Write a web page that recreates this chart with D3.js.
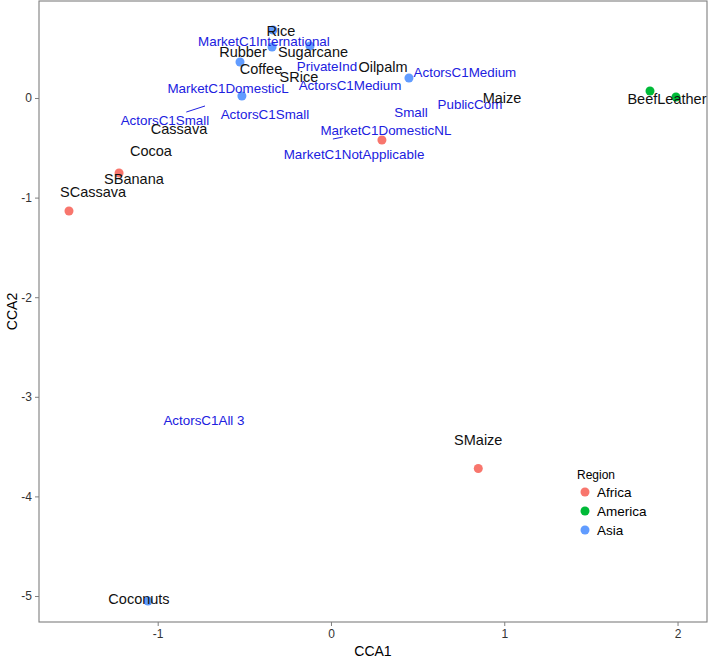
<!DOCTYPE html>
<html>
<head>
<meta charset="utf-8">
<script src="https://cdn.jsdelivr.net/npm/d3@7"></script>
<style>
  body { margin: 0; background: #fff; }
  text { font-family: "Liberation Sans", Arial, sans-serif; }
</style>
</head>
<body>
<div id="chart"></div>
<script>
// site scores (points), coloured by region
var siteX = [-0.335, -0.340, -0.121, -0.525, -0.514, 0.450, -1.056, -1.223, -1.512, 0.294, 0.85, 1.841, 1.991];
var siteY = [0.683, 0.512, 0.522, 0.361, 0.020, 0.201, -5.05, -0.753, -1.135, -0.422, -3.72, 0.070, 0.010];
var siteRegion = ["Asia", "Asia", "Asia", "Asia", "Asia", "Asia", "Asia", "Africa", "Africa", "Africa", "Africa", "America", "America"];

// species labels (black)
var spNames = ["Rice", "Rubber", "Sugarcane", "Coffee", "SRice", "Oilpalm", "Maize", "BeefLeather", "Cassava", "Cocoa", "SBanana", "SCassava", "SMaize", "Coconuts"];
var spX = [-0.289, -0.508, -0.104, -0.404, -0.185, 0.300, 0.987, 1.939, -0.877, -1.039, -1.137, -1.373, 0.85, -1.108];
var spY = [0.673, 0.462, 0.462, 0.291, 0.211, 0.311, 0.0, -0.01, -0.311, -0.532, -0.813, -0.944, -3.43, -5.03];

// constraint labels (blue)
var envNames = ["MarketC1International", "PrivateInd", "ActorsC1Medium", "ActorsC1Medium", "MarketC1DomesticL", "ActorsC1Small", "ActorsC1Small", "Small", "PublicCom", "MarketC1DomesticNL", "MarketC1NotApplicable", "ActorsC1All 3"];
var envX = [-0.387, -0.023, 0.110, 0.773, -0.594, -0.381, -0.958, 0.462, 0.802, 0.317, 0.133, -0.733];
var envY = [0.572, 0.321, 0.131, 0.261, 0.100, -0.161, -0.221, -0.141, -0.060, -0.321, -0.562, -3.233];

// repel segments [x1, y1, x2, y2]
var segs = [[-0.835, -0.141, -0.727, -0.080], [0.011, -0.412, 0.069, -0.392]];

var xTicks = [-1, 0, 1, 2];
var yTicks = [0, -1, -2, -3, -4, -5];
var regions = ["Africa", "America", "Asia"];
var regionColors = ["#F8766D", "#00BA38", "#619CFF"];

var svgWidth = 708;
var svgHeight = 661;
var margins = { top: 1, right: 1, bottom: 39, left: 39 };
var chartWidth = svgWidth - margins.left - margins.right;
var chartHeight = svgHeight - margins.top - margins.bottom;

var svg = d3.select("#chart").append("svg")
  .attr("width", svgWidth)
  .attr("height", svgHeight);

var chartGroup = svg.append("g")
  .attr("transform", `translate(${margins.left}, ${margins.top})`);

var xscale = d3.scaleLinear().domain([-1.685, 2.170]).range([0, chartWidth]);
var yscale = d3.scaleLinear().domain([0.974, -5.261]).range([0, chartHeight]);
var color = d3.scaleOrdinal().domain(regions).range(regionColors);

// axes (plain hyphen for negatives, like R)
var xAxis = d3.axisBottom(xscale).tickValues(xTicks).tickSize(4).tickPadding(3).tickFormat(d => String(d));
var yAxis = d3.axisLeft(yscale).tickValues(yTicks).tickSize(4).tickPadding(3).tickFormat(d => String(d));

var gx = chartGroup.append("g").attr("transform", `translate(0, ${chartHeight})`).call(xAxis);
var gy = chartGroup.append("g").call(yAxis);
[gx, gy].forEach(function(g) {
  g.select(".domain").remove();
  g.selectAll("line").attr("stroke", "#7f7f7f");
  g.selectAll("text").attr("fill", "#333").style("font-size", "12px");
});

// panel border
chartGroup.append("rect")
  .attr("x", 0).attr("y", 0)
  .attr("width", chartWidth).attr("height", chartHeight)
  .attr("fill", "none")
  .attr("stroke", "#7f7f7f")
  .attr("stroke-width", 1.1);

// points
chartGroup.append("g").selectAll("circle")
  .data(siteX)
  .enter()
  .append("circle")
  .attr("cx", (d, i) => xscale(siteX[i]))
  .attr("cy", (d, i) => yscale(siteY[i]))
  .attr("r", 4.5)
  .attr("fill", (d, i) => color(siteRegion[i]));

// segments
chartGroup.append("g").selectAll("line")
  .data(segs)
  .enter()
  .append("line")
  .attr("x1", d => xscale(d[0])).attr("y1", d => yscale(d[1]))
  .attr("x2", d => xscale(d[2])).attr("y2", d => yscale(d[3]))
  .attr("stroke", "#2020e0")
  .attr("stroke-width", 1);

// blue labels
chartGroup.append("g").selectAll("text")
  .data(envNames)
  .enter()
  .append("text")
  .attr("x", (d, i) => xscale(envX[i]))
  .attr("y", (d, i) => yscale(envY[i]))
  .attr("text-anchor", "middle")
  .attr("dy", "0.35em")
  .attr("fill", "#2020e0")
  .style("font-size", "13.4px")
  .text(d => d);

// black labels
chartGroup.append("g").selectAll("text")
  .data(spNames)
  .enter()
  .append("text")
  .attr("x", (d, i) => xscale(spX[i]))
  .attr("y", (d, i) => yscale(spY[i]))
  .attr("text-anchor", "middle")
  .attr("dy", "0.35em")
  .attr("fill", "#111")
  .style("font-size", "14.5px")
  .text(d => d);

// axis titles
svg.append("text")
  .attr("x", margins.left + chartWidth / 2)
  .attr("y", 656)
  .attr("text-anchor", "middle")
  .style("font-size", "14px")
  .text("CCA1");

svg.append("text")
  .attr("transform", `translate(17, ${margins.top + chartHeight / 2}) rotate(-90)`)
  .attr("text-anchor", "middle")
  .style("font-size", "14px")
  .text("CCA2");

// legend
var legend = svg.append("g").attr("transform", "translate(577, 475)");
legend.append("text")
  .attr("x", 0).attr("y", 0)
  .attr("dy", "0.35em")
  .style("font-size", "12px")
  .text("Region");
regions.forEach(function(r, i) {
  legend.append("circle")
    .attr("cx", 8).attr("cy", 17 + i * 19)
    .attr("r", 4.5)
    .attr("fill", color(r));
  legend.append("text")
    .attr("x", 20).attr("y", 17 + i * 19)
    .attr("dy", "0.35em")
    .style("font-size", "13.5px")
    .text(r);
});
</script>
</body>
</html>
